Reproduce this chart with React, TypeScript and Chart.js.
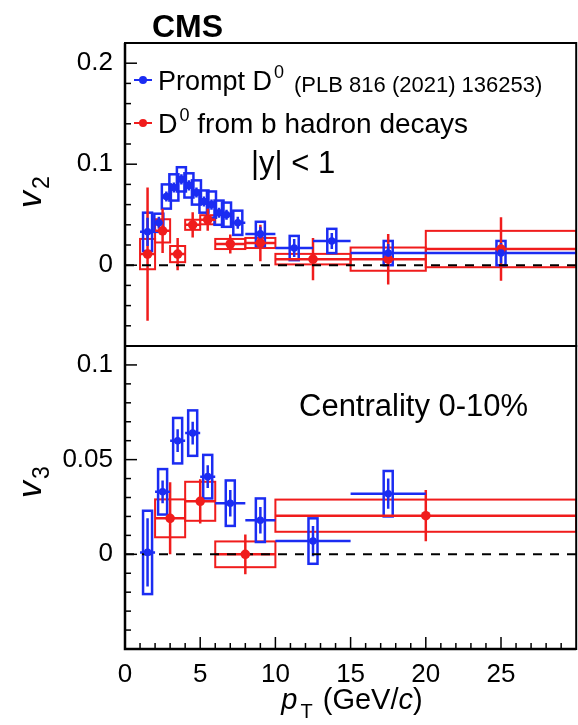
import React, { useEffect, useRef } from "react";
import { Chart, registerables } from "chart.js";

Chart.register(...registerables);

const FONT = '"Liberation Sans", Arial, Helvetica, sans-serif';
const BLUE = "#1b2cf2";
const RED = "#f01c1c";

// ---- tick labels ----
const xTickLabels = [0, 5, 10, 15, 20, 25];
const v2TickLabels = [0, 0.1, 0.2];
const v3TickLabels = [0, 0.05, 0.1];

// ---- Prompt D0 v2 (PLB 816 (2021) 136253) ----
const promptPt2 = [1.5, 2.25, 2.75, 3.25, 3.75, 4.25, 4.75, 5.25, 5.75, 6.25, 6.75, 7.5, 9, 11.25, 13.75, 17.5, 25];
const promptPtErr2 = [0.5, 0.25, 0.25, 0.25, 0.25, 0.25, 0.25, 0.25, 0.25, 0.25, 0.25, 0.5, 1, 1.25, 1.25, 2.5, 5];
const promptV2 = [0.033, 0.042, 0.068, 0.077, 0.085, 0.079, 0.072, 0.063, 0.06, 0.052, 0.05, 0.042, 0.031, 0.017, 0.024, 0.012, 0.012];
const promptStat2 = [0.014, 0.006, 0.005, 0.005, 0.005, 0.005, 0.005, 0.005, 0.005, 0.005, 0.005, 0.006, 0.007, 0.009, 0.008, 0.009, 0.01];
const promptSyst2 = [0.019, 0.009, 0.012, 0.013, 0.012, 0.012, 0.012, 0.011, 0.013, 0.012, 0.012, 0.012, 0.012, 0.012, 0.012, 0.012, 0.012];

// ---- D0 from b hadron decays v2 ----
const bPt2 = [1.5, 2.5, 3.5, 4.5, 5.5, 7, 9, 12.5, 17.5, 25];
const bPtErr2 = [0.5, 0.5, 0.5, 0.5, 0.5, 1, 1, 2.5, 2.5, 5];
const bV2 = [0.011, 0.034, 0.011, 0.04, 0.045, 0.021, 0.022, 0.006, 0.006, 0.016];
const bStat2 = [0.066, 0.022, 0.016, 0.0125, 0.011, 0.0095, 0.018, 0.021, 0.025, 0.0315];
const bSyst2 = [0.015, 0.0115, 0.008, 0.005, 0.0045, 0.005, 0.005, 0.0052, 0.0115, 0.018];

// ---- Prompt D0 v3 ----
const promptPt3 = [1.5, 2.5, 3.5, 4.5, 5.5, 7, 9, 12.5, 17.5];
const promptPtErr3 = [0.5, 0.5, 0.5, 0.5, 0.5, 1, 1, 2.5, 2.5];
const promptV3 = [0.001, 0.033, 0.06, 0.064, 0.041, 0.027, 0.018, 0.007, 0.032];
const promptStat3 = [0.018, 0.006, 0.006, 0.006, 0.006, 0.007, 0.007, 0.008, 0.008];
const promptSyst3 = [0.022, 0.012, 0.012, 0.012, 0.0115, 0.012, 0.0115, 0.012, 0.012];

// ---- D0 from b hadron decays v3 ----
const bPt3 = [3, 5, 8, 20];
const bPtErr3 = [1, 1, 2, 10];
const bV3 = [0.019, 0.028, 0.0, 0.0204];
const bStat3 = [0.019, 0.0117, 0.0105, 0.0135];
const bSyst3 = [0.01, 0.0103, 0.0068, 0.0085];

const BLUE_BOX_HALF = 0.3;

const toPts = (xs: number[], ys: number[]) => xs.map((x, i) => ({ x, y: ys[i] }));

type Series = {
  axis: string; color: string; pt: number[]; xe: number[]; v: number[]; st: number[]; sy: number[]; boxHalf: number | null;
};

const seriesList: Series[] = [
  { axis: "yTop", color: RED, pt: bPt2, xe: bPtErr2, v: bV2, st: bStat2, sy: bSyst2, boxHalf: null },
  { axis: "yTop", color: BLUE, pt: promptPt2, xe: promptPtErr2, v: promptV2, st: promptStat2, sy: promptSyst2, boxHalf: BLUE_BOX_HALF },
  { axis: "yBot", color: RED, pt: bPt3, xe: bPtErr3, v: bV3, st: bStat3, sy: bSyst3, boxHalf: null },
  { axis: "yBot", color: BLUE, pt: promptPt3, xe: promptPtErr3, v: promptV3, st: promptStat3, sy: promptSyst3, boxHalf: BLUE_BOX_HALF },
];

type Part = { t: string; font: string; dx?: number; dy?: number };
function rich(ctx: CanvasRenderingContext2D, x: number, y: number, parts: Part[], align: "left" | "center" = "left") {
  let w = 0;
  parts.forEach((p) => { ctx.font = p.font; w += ctx.measureText(p.t).width + (p.dx || 0); });
  let cx = align === "center" ? x - w / 2 : x;
  parts.forEach((p) => {
    ctx.font = p.font;
    cx += p.dx || 0;
    ctx.fillText(p.t, cx, y + (p.dy || 0));
    cx += ctx.measureText(p.t).width;
  });
}

const physicsPlugin = {
  id: "physics",
  beforeDatasetsDraw(chart: any) {
    const ctx: CanvasRenderingContext2D = chart.ctx;
    const xs = chart.scales.x;
    const area = chart.chartArea;
    for (const pass of ["box", "bar"]) {
      for (const s of seriesList) {
        const ys = chart.scales[s.axis];
        ctx.save();
        ctx.beginPath();
        ctx.rect(area.left, ys.top, area.right - area.left, ys.bottom - ys.top);
        ctx.clip();
        ctx.strokeStyle = s.color;
        s.pt.forEach((p, i) => {
          const yv = s.v[i];
          if (pass === "box") {
            const hw = s.boxHalf === null ? s.xe[i] : s.boxHalf;
            const x0 = xs.getPixelForValue(p - hw);
            const x1 = xs.getPixelForValue(p + hw);
            const y0 = ys.getPixelForValue(yv + s.sy[i]);
            const y1 = ys.getPixelForValue(yv - s.sy[i]);
            ctx.lineWidth = s.boxHalf === null ? 2 : 2.5;
            ctx.strokeRect(x0, y0, x1 - x0, y1 - y0);
          } else {
            ctx.lineWidth = 2.5;
            const px = xs.getPixelForValue(p);
            const py = ys.getPixelForValue(yv);
            ctx.beginPath();
            ctx.moveTo(px, ys.getPixelForValue(yv + s.st[i]));
            ctx.lineTo(px, ys.getPixelForValue(yv - s.st[i]));
            ctx.moveTo(xs.getPixelForValue(p - s.xe[i]), py);
            ctx.lineTo(xs.getPixelForValue(p + s.xe[i]), py);
            ctx.stroke();
          }
        });
        ctx.restore();
      }
    }
  },
  afterDraw(chart: any) {
    const ctx: CanvasRenderingContext2D = chart.ctx;
    const xs = chart.scales.x;
    const yt = chart.scales.yTop;
    const yb = chart.scales.yBot;
    const L = chart.chartArea.left;
    const R = chart.chartArea.right;
    ctx.save();
    ctx.strokeStyle = "#000";
    ctx.fillStyle = "#000";
    ctx.lineWidth = 1.5;
    const yTicks = (sc: any, lo: number, hi: number, step: number, majorEvery: number) => {
      const n = Math.round((hi - lo) / step);
      for (let i = 0; i <= n; i++) {
        const v = lo + i * step;
        const py = sc.getPixelForValue(v);
        if (Math.abs(py - sc.top) < 2 || Math.abs(py - sc.bottom) < 2) continue;
        const k = Math.round(v / step);
        const major = k % majorEvery === 0;
        ctx.beginPath();
        ctx.moveTo(L, py);
        ctx.lineTo(L + (major ? 12 : 6), py);
        ctx.stroke();
      }
    };
    yTicks(yt, -0.08, 0.22, 0.02, 5);
    yTicks(yb, -0.05, 0.11, 0.01, 5);
    for (let v = 1; v < 30; v++) {
      const px = xs.getPixelForValue(v);
      const major = v % 5 === 0;
      ctx.beginPath();
      ctx.moveTo(px, yb.bottom);
      ctx.lineTo(px, yb.bottom - (major ? 12 : 6));
      ctx.stroke();
    }
    ctx.lineWidth = 2;
    ctx.strokeRect(L, yt.top, R - L, yt.bottom - yt.top);
    ctx.strokeRect(L, yb.top, R - L, yb.bottom - yb.top);
    ctx.lineWidth = 2.5;
    ctx.beginPath();
    ctx.moveTo(L, yt.top);
    ctx.lineTo(L, yb.bottom);
    ctx.lineTo(R, yb.bottom);
    ctx.stroke();

    ctx.textBaseline = "alphabetic";
    ctx.textAlign = "left";
    const big = `27px ${FONT}`;
    const sup = `18px ${FONT}`;
    ctx.font = `bold 32px ${FONT}`;
    ctx.fillText("CMS", 152, 37);

    const legendRow = (y: number, color: string) => {
      ctx.strokeStyle = color;
      ctx.fillStyle = color;
      ctx.lineWidth = 2;
      ctx.beginPath();
      ctx.moveTo(134, y);
      ctx.lineTo(152, y);
      ctx.stroke();
      ctx.beginPath();
      ctx.arc(143, y, 4, 0, Math.PI * 2);
      ctx.fill();
      ctx.fillStyle = "#000";
    };
    legendRow(80, BLUE);
    rich(ctx, 158, 90, [
      { t: "Prompt D", font: big },
      { t: "0", font: sup, dx: 2, dy: -12 },
      { t: "(PLB 816 (2021) 136253)", font: `22px ${FONT}`, dx: 10, dy: 2 },
    ]);
    legendRow(123, RED);
    rich(ctx, 158, 133, [
      { t: "D", font: big },
      { t: "0", font: sup, dx: 2, dy: -12 },
      { t: " from b hadron decays", font: `28px ${FONT}` },
    ]);
    ctx.font = `31px ${FONT}`;
    ctx.fillText("|y| < 1", 251, 173);
    ctx.fillText("Centrality 0-10%", 299, 416);

    const yTitle = (cx: number, cy: number, sub: string) => {
      ctx.save();
      ctx.translate(cx, cy);
      ctx.rotate(-Math.PI / 2);
      rich(ctx, 0, 0, [
        { t: "v", font: `italic 34px ${FONT}` },
        { t: sub, font: `23px ${FONT}`, dx: 2, dy: 8 },
      ], "center");
      ctx.restore();
    };
    yTitle(41, 192, "2");
    yTitle(41, 482, "3");
    rich(ctx, 352, 709, [
      { t: "p", font: `italic 29px ${FONT}` },
      { t: "T", font: `20px ${FONT}`, dx: 3, dy: 9 },
      { t: " (GeV/", font: `29px ${FONT}`, dx: 2 },
      { t: "c", font: `italic 29px ${FONT}` },
      { t: ")", font: `29px ${FONT}` },
    ], "center");
    ctx.restore();
  },
};

export default function App() {
  const ref = useRef<HTMLCanvasElement>(null);
  useEffect(() => {
    const canvas = ref.current;
    if (!canvas) return;
    const tickFont = { family: FONT, size: 26 };
    const chart = new Chart(canvas, {
      type: "scatter",
      data: {
        datasets: [
          { label: "Prompt D0 v2", data: toPts(promptPt2, promptV2), yAxisID: "yTop", xAxisID: "x", backgroundColor: BLUE, borderColor: BLUE, pointRadius: 3.8, pointBorderWidth: 0, order: 1 },
          { label: "D0 from b v2", data: toPts(bPt2, bV2), yAxisID: "yTop", xAxisID: "x", backgroundColor: RED, borderColor: RED, pointRadius: 4.8, pointBorderWidth: 0, order: 2 },
          { label: "Prompt D0 v3", data: toPts(promptPt3, promptV3), yAxisID: "yBot", xAxisID: "x", backgroundColor: BLUE, borderColor: BLUE, pointRadius: 3.8, pointBorderWidth: 0, order: 1 },
          { label: "D0 from b v3", data: toPts(bPt3, bV3), yAxisID: "yBot", xAxisID: "x", backgroundColor: RED, borderColor: RED, pointRadius: 4.8, pointBorderWidth: 0, order: 2 },
          { type: "line", label: "zero v2", data: [{ x: 0, y: 0 }, { x: 30, y: 0 }], yAxisID: "yTop", xAxisID: "x", borderColor: "#000", borderWidth: 2, borderDash: [9, 8], pointRadius: 0, order: 10 },
          { type: "line", label: "zero v3", data: [{ x: 0, y: 0 }, { x: 30, y: 0 }], yAxisID: "yBot", xAxisID: "x", borderColor: "#000", borderWidth: 2, borderDash: [9, 8], pointRadius: 0, order: 10 },
        ] as any,
      },
      options: {
        responsive: false,
        animation: false,
        devicePixelRatio: 1,
        layout: { padding: { top: 43, right: 0, left: 0, bottom: 0 } },
        plugins: { legend: { display: false }, tooltip: { enabled: false } },
        scales: {
          yBot: {
            type: "linear", position: "left", stack: "v", stackWeight: 1, min: -0.05, max: 0.11,
            grid: { display: false, drawTicks: false }, border: { display: false },
            ticks: { font: tickFont, color: "#000", padding: 12, callback: (v: any) => String(+(+v).toFixed(2)) },
            afterBuildTicks: (s: any) => { s.ticks = v3TickLabels.map((v) => ({ value: v })); },
            afterFit: (s: any) => { s.width = 125; },
          },
          yTop: {
            type: "linear", position: "left", stack: "v", stackWeight: 1, min: -0.08, max: 0.22,
            grid: { display: false, drawTicks: false }, border: { display: false },
            ticks: { font: tickFont, color: "#000", padding: 12, callback: (v: any) => String(+(+v).toFixed(2)) },
            afterBuildTicks: (s: any) => { s.ticks = v2TickLabels.map((v) => ({ value: v })); },
            afterFit: (s: any) => { s.width = 125; },
          },
          x: {
            type: "linear", position: "bottom", min: 0, max: 30,
            grid: { display: false, drawTicks: false }, border: { display: false },
            ticks: { font: tickFont, color: "#000", padding: 10, maxRotation: 0 },
            afterBuildTicks: (s: any) => { s.ticks = xTickLabels.map((v) => ({ value: v })); },
            afterFit: (s: any) => { s.height = 76; },
          },
        },
      } as any,
      plugins: [physicsPlugin as any],
    });
    return () => chart.destroy();
  }, []);
  return (
    <div style={{ position: "fixed", left: 0, top: 0, width: 578, height: 725, overflow: "hidden", background: "#fff" }}>
      <canvas ref={ref} width={581} height={725} style={{ display: "block" }} />
    </div>
  );
}
